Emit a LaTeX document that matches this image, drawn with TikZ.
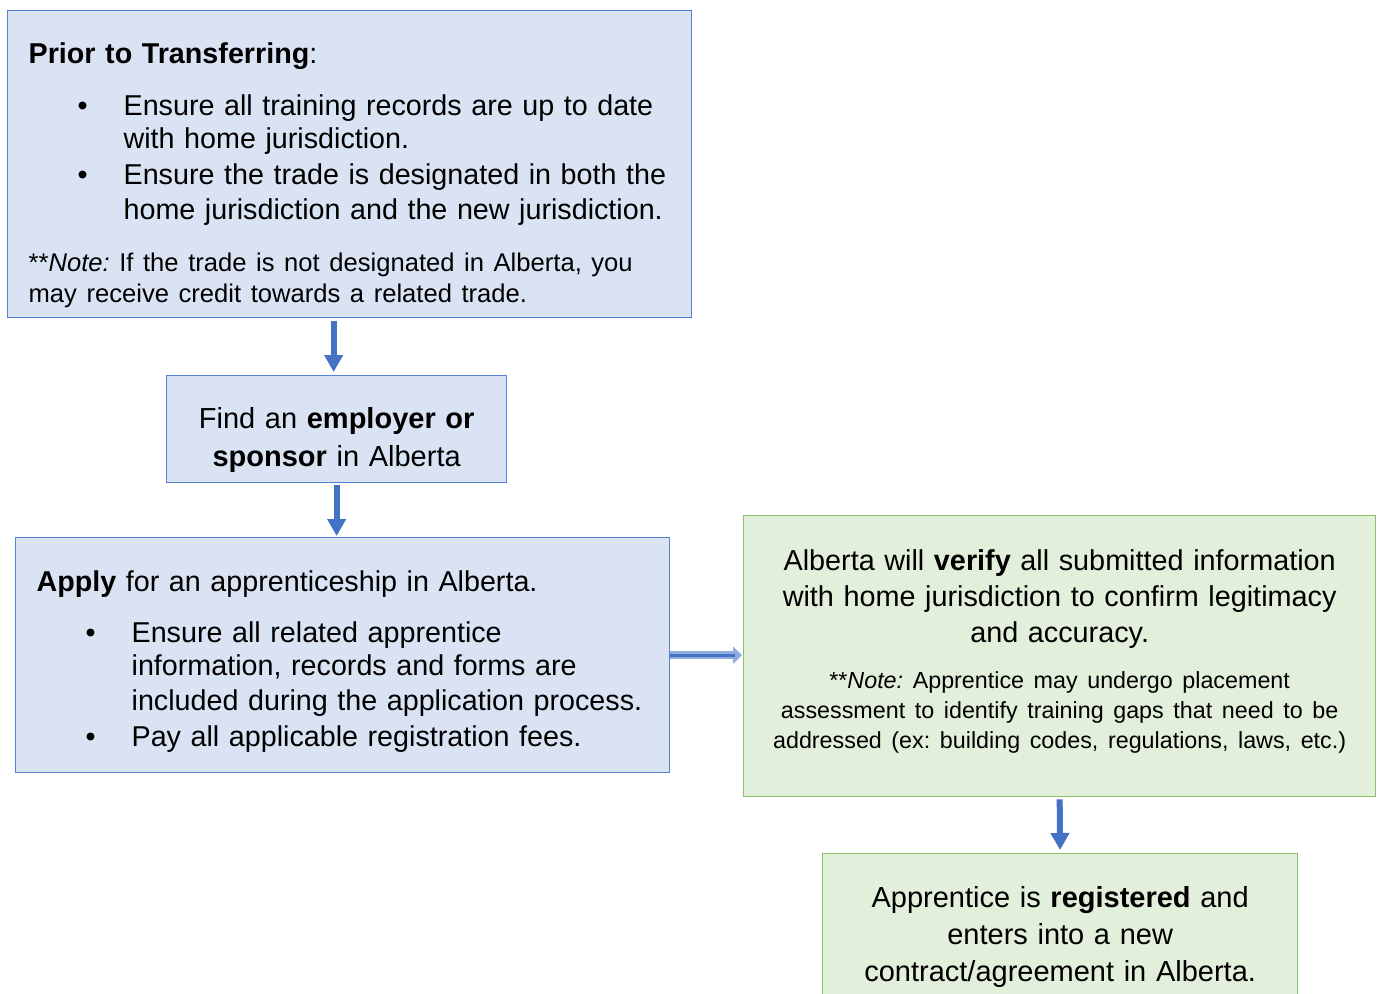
\documentclass[tikz,border=0pt]{standalone}
\usepackage{fontspec}
\setmainfont{Liberation Sans}
\usepackage{xcolor}
\usepackage{tikz}
\usetikzlibrary{arrows.meta,positioning,calc}

\definecolor{boxblue}{HTML}{DAE3F3}
\definecolor{lineblue}{HTML}{5580D3}
\definecolor{arrowblue}{HTML}{4472C4}
\definecolor{lightarrow}{HTML}{8FAADC}
\definecolor{boxgreen}{HTML}{E2EFDA}
\definecolor{linegreen}{HTML}{8AC16B}

% bullet and hanging indent for list lines
\newcommand{\bul}{\makebox[95pt][l]{\hspace{49pt}\textbullet}}
\newcommand{\ind}{\hspace*{95pt}}
\newcommand{\notesize}{\fontsize{25.6}{31}\selectfont}
\newcommand{\smallnote}{\fontsize{23.3}{30}\selectfont}

\begin{document}
\frenchspacing
\begin{tikzpicture}[
    x=1pt, y=-1pt,
    step1/.style={rectangle, draw=lineblue, line width=1.3pt, fill=boxblue, inner sep=0pt, font=\fontsize{28.7}{35}\selectfont},
    step2/.style={rectangle, draw=linegreen, line width=1.3pt, fill=boxgreen, inner sep=0pt, font=\fontsize{28.8}{36}\selectfont},
    flow/.style={-{Triangle[length=17pt, width=18pt]}, line width=6pt, draw=arrowblue},
    sideflow/.style={-{Triangle[length=9pt, width=17pt]}, line width=8pt, draw=lightarrow,
        postaction={draw=arrowblue, line width=3pt, shorten >=8pt, -}},
]
    \useasboundingbox (0,0) rectangle (1381,993);

    % Left column
    \node[step1, anchor=north west, minimum width=684pt, minimum height=307pt, text width=642pt, align=left] (prior) at (7,10)
        {\begin{tabular}{@{}l@{}}
         \textbf{Prior to Transferring}:\\[17pt]
         \bul Ensure all training records are up to date\\[-2pt]
         \ind with home jurisdiction.\\[1pt]
         \bul Ensure the trade is designated in both the\\
         \ind home jurisdiction and the new jurisdiction.\\[17pt]
         \notesize **\textit{Note:} If the trade is not designated in Alberta, you\\[-4pt]
         \notesize may receive credit towards a related trade.
         \end{tabular}\vspace*{-24pt}};
    \node[step1, anchor=north west, minimum width=340pt, minimum height=107pt, text width=330pt, align=center, font=\fontsize{29}{38}\selectfont] (sponsor) at (166,375)
        {Find an \textbf{employer or}\\ \textbf{sponsor} in Alberta\vspace*{-22pt}};
    \node[step1, anchor=north west, minimum width=654pt, minimum height=235pt, text width=612pt, align=left] (apply) at (15,537)
        {\begin{tabular}{@{}l@{}}
         \textbf{Apply} for an apprenticeship in Alberta.\\[16pt]
         \bul Ensure all related apprentice\\[-2pt]
         \ind information, records and forms are\\
         \ind included during the application process.\\[1pt]
         \bul Pay all applicable registration fees.
         \end{tabular}\vspace*{-14pt}};

    % Right column
    \node[step2, anchor=north west, minimum width=632pt, minimum height=281pt, text width=620pt, align=center] (verify) at (743,515)
        {Alberta will \textbf{verify} all submitted information\\ with home jurisdiction to confirm legitimacy\\ and accuracy.\par\vspace{16pt}
         {\smallnote **\textit{Note:} Apprentice may undergo placement\\ assessment to identify training gaps that need to be\\ addressed (ex: building codes, regulations, laws, etc.)\par}
         \vspace{10pt}\hrule height 0pt};
    \node[step2, anchor=north west, minimum width=475pt, minimum height=161pt, text width=460pt, align=center, font=\fontsize{29}{37}\selectfont] (registered) at (822,853)
        {Apprentice is \textbf{registered} and\\ enters into a new\\ contract/agreement in Alberta.\vspace*{-6pt}};

    \draw[flow, shorten <=3pt, shorten >=3pt] ([xshift=-3pt]prior.south -| sponsor.north) -- ([xshift=-3pt]sponsor.north);
    \draw[flow, shorten <=2pt, shorten >=1pt] (sponsor.south) -- (sponsor.south |- apply.north);
    \draw[sideflow, shorten >=1pt] (apply.east) -- (apply.east -| verify.west);
    \draw[flow, shorten <=2pt, shorten >=3pt] (verify.south) -- (registered.north);
\end{tikzpicture}
\end{document}
